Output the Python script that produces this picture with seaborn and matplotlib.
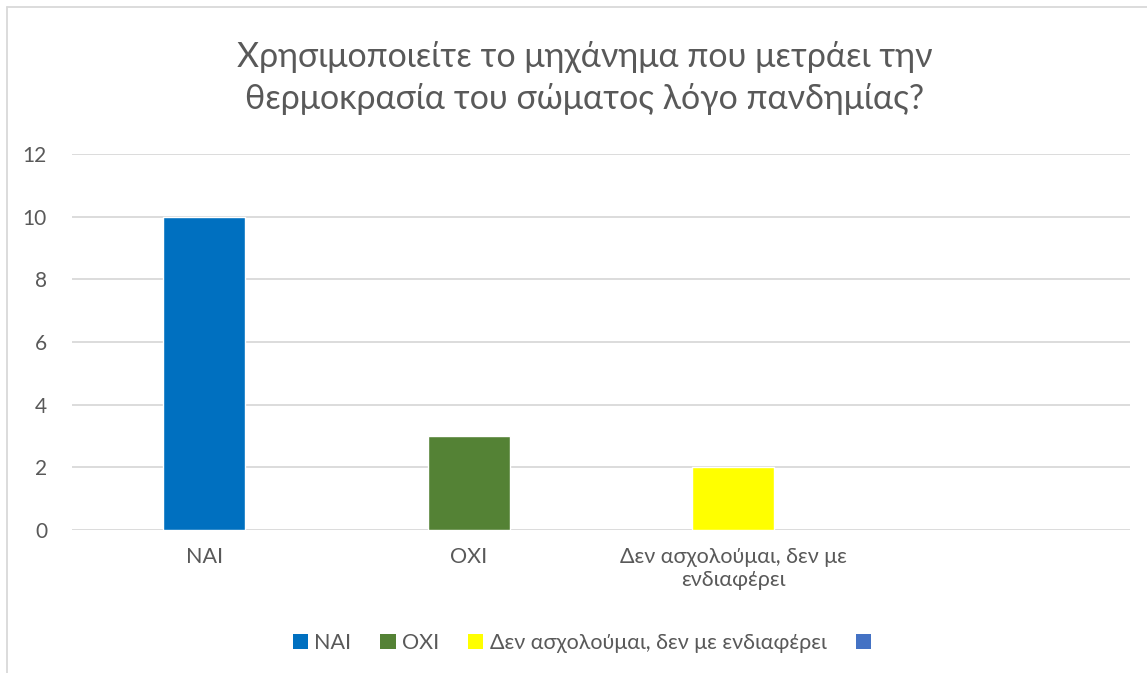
import matplotlib
matplotlib.use("Agg")
import matplotlib.pyplot as plt
import seaborn as sns
import pandas as pd
from matplotlib.lines import Line2D
from matplotlib.patches import Patch

# Data
categories = ["NAI", "OXI", "Δεν ασχολούμαι, δεν με ενδιαφέρει", ""]
tick_labels = ["NAI", "OXI", "Δεν ασχολούμαι, δεν με\nενδιαφέρει", ""]
values = [10, 3, 2, None]
colors = ["#0070C0", "#548235", "#FFFF00", "#4472C4"]
title = "Χρησιμοποιείτε το μηχάνημα που μετράει την\nθερμοκρασία του σώματος λόγο πανδημίας?"

sns.set_theme(style="white")
plt.rcParams['font.family'] = ['Lato', 'DejaVu Sans']

df = pd.DataFrame({"cat": categories[:3], "val": values[:3]})

fig = plt.figure(figsize=(11.47, 6.73), dpi=100)
ax = fig.add_axes([72 / 1147, 1 - 530 / 673, (1130 - 72) / 1147, (530 - 154) / 673])

sns.barplot(data=df, x="cat", y="val", hue="cat", order=categories,
            hue_order=categories[:3], palette=colors[:3], width=0.31,
            saturation=1, legend=False, ax=ax, zorder=3)

ax.set_ylim(0, 12)
ax.set_xlim(-0.5, 3.5)
ax.set_yticks(range(0, 13, 2))
ax.yaxis.grid(True, color="#D9D9D9", linewidth=1.3, zorder=0)
ax.set_axisbelow(True)
for s in ax.spines.values():
    s.set_visible(False)
ax.set_xlabel("")
ax.set_ylabel("")
ax.set_xticks(range(len(categories)))
ax.set_xticklabels(tick_labels)
ax.tick_params(axis="x", length=0, pad=12, labelsize=15.5, labelcolor="#595959")
ax.tick_params(axis="y", length=0, pad=18, labelsize=15, labelcolor="#595959")

fig.text(0.51, 1 - 78 / 673, title, ha="center", va="center", fontsize=24.5,
         color="#595959", linespacing=1.4)

handles = [Patch(facecolor=c, edgecolor="none") for c in colors]
fig.legend(handles, categories, loc="center", bbox_to_anchor=(0.51, 1 - 643 / 673),
           ncol=4, frameon=False, fontsize=15.5, handlelength=0.7, handleheight=0.7,
           handletextpad=0.3, columnspacing=1.35, labelcolor="#595959")

# chart border (cropped at right and bottom)
fig.add_artist(Line2D([7 / 1147, 1], [1 - 7 / 673, 1 - 7 / 673], color="#D9D9D9",
                      linewidth=1.3, transform=fig.transFigure))
fig.add_artist(Line2D([7 / 1147, 7 / 1147], [0, 1 - 7 / 673], color="#D9D9D9",
                      linewidth=1.3, transform=fig.transFigure))

fig.savefig("out.png", dpi=100, facecolor="white")
